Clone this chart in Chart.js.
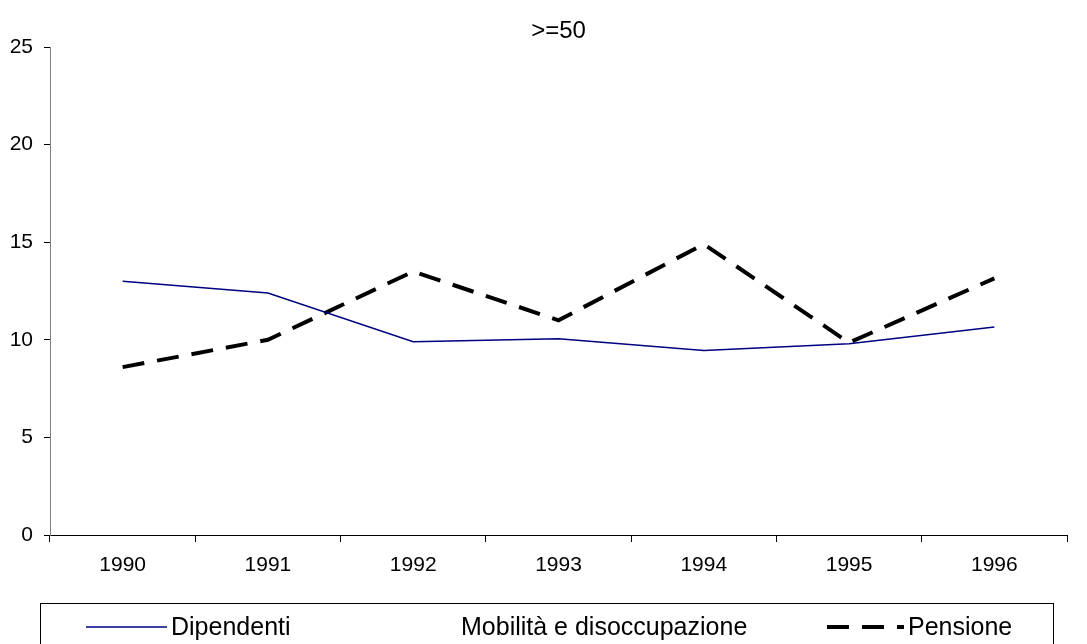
<!DOCTYPE html>
<html>
<head>
<meta charset="utf-8">
<script src="https://cdn.jsdelivr.net/npm/chart.js@4/dist/chart.umd.min.js"></script>
<style>
  html, body { margin: 0; padding: 0; background: #fff; }
  #wrap { width: 1087px; height: 644px; }
</style>
</head>
<body>
<div id="wrap"><canvas id="chart" width="1087" height="644"></canvas></div>
<script>
// data
const years = ['1990', '1991', '1992', '1993', '1994', '1995', '1996'];
const dipendenti = [13.0, 12.4, 9.9, 10.05, 9.45, 9.8, 10.65];
const mobilita = [null, null, null, null, null, null, null]; // not drawn in the original
const pensione = [8.6, 10.0, 13.5, 11.0, 14.9, 9.85, 13.15];
const chartTitle = '>=50';

const FONT = '"Liberation Sans", Arial, sans-serif';

// title centred over the plot area + legend box under the axis
const boxLegend = {
    id: 'boxLegend',
    afterDraw(chart) {
        const ctx = chart.ctx;
        const area = chart.chartArea;
        ctx.save();

        ctx.fillStyle = '#000';
        ctx.font = '24px ' + FONT;
        ctx.textAlign = 'center';
        ctx.textBaseline = 'alphabetic';
        ctx.fillText(chartTitle, (area.left + area.right) / 2, 38);

        ctx.strokeStyle = '#000';
        ctx.lineWidth = 1;
        ctx.strokeRect(40.5, 603.5, 1013, 60);

        const slots = [
            { x1: 86, x2: 167 },
            { x1: 380, x2: 457 },
            { x1: 827, x2: 904 }
        ];
        const y = 627;
        ctx.font = '25px ' + FONT;
        ctx.textBaseline = 'middle';
        ctx.textAlign = 'left';
        chart.data.datasets.forEach(function (ds, i) {
            const s = slots[i];
            ctx.beginPath();
            ctx.setLineDash(ds.borderDash || []);
            ctx.lineWidth = ds.borderWidth;
            ctx.strokeStyle = ds.borderColor;
            ctx.moveTo(s.x1, y);
            ctx.lineTo(s.x2, y);
            ctx.stroke();
            ctx.setLineDash([]);
            ctx.fillStyle = '#000';
            ctx.fillText(ds.label, s.x2 + 4, y + 1);
        });
        ctx.restore();
    }
};

new Chart(document.getElementById('chart').getContext('2d'), {
    type: 'line',
    data: {
        labels: years,
        datasets: [{
            label: 'Dipendenti',
            data: dipendenti,
            borderColor: '#000080',
            borderWidth: 1.5,
            pointRadius: 0,
            tension: 0
        }, {
            label: 'Mobilità e disoccupazione',
            data: mobilita,
            borderColor: 'rgba(255,255,255,0)',
            borderWidth: 1.5,
            pointRadius: 0,
            tension: 0
        }, {
            label: 'Pensione',
            data: pensione,
            borderColor: '#000000',
            borderWidth: 4,
            borderDash: [22, 13],
            pointRadius: 0,
            tension: 0
        }]
    },
    options: {
        responsive: false,
        animation: false,
        layout: { padding: { left: 0, right: 20, top: 47, bottom: 49 } },
        plugins: {
            legend: { display: false },
            tooltip: { enabled: false },
            title: { display: false }
        },
        scales: {
            x: {
                offset: true,
                grid: {
                    offset: true,
                    drawOnChartArea: false,
                    tickLength: 7,
                    color: '#000'
                },
                border: { color: '#000', width: 1 },
                ticks: {
                    color: '#000',
                    padding: 11,
                    maxRotation: 0,
                    font: { family: FONT, size: 21 }
                },
                afterFit: function (scale) { scale.height = 60; }
            },
            y: {
                min: 0,
                max: 25,
                grid: {
                    drawOnChartArea: false,
                    tickLength: 6,
                    color: '#000'
                },
                border: { color: '#808080', width: 1 },
                ticks: {
                    stepSize: 5,
                    color: '#000',
                    padding: 11,
                    font: { family: FONT, size: 21 }
                },
                afterFit: function (scale) { scale.width = 50; }
            }
        }
    },
    plugins: [boxLegend]
});
</script>
</body>
</html>
